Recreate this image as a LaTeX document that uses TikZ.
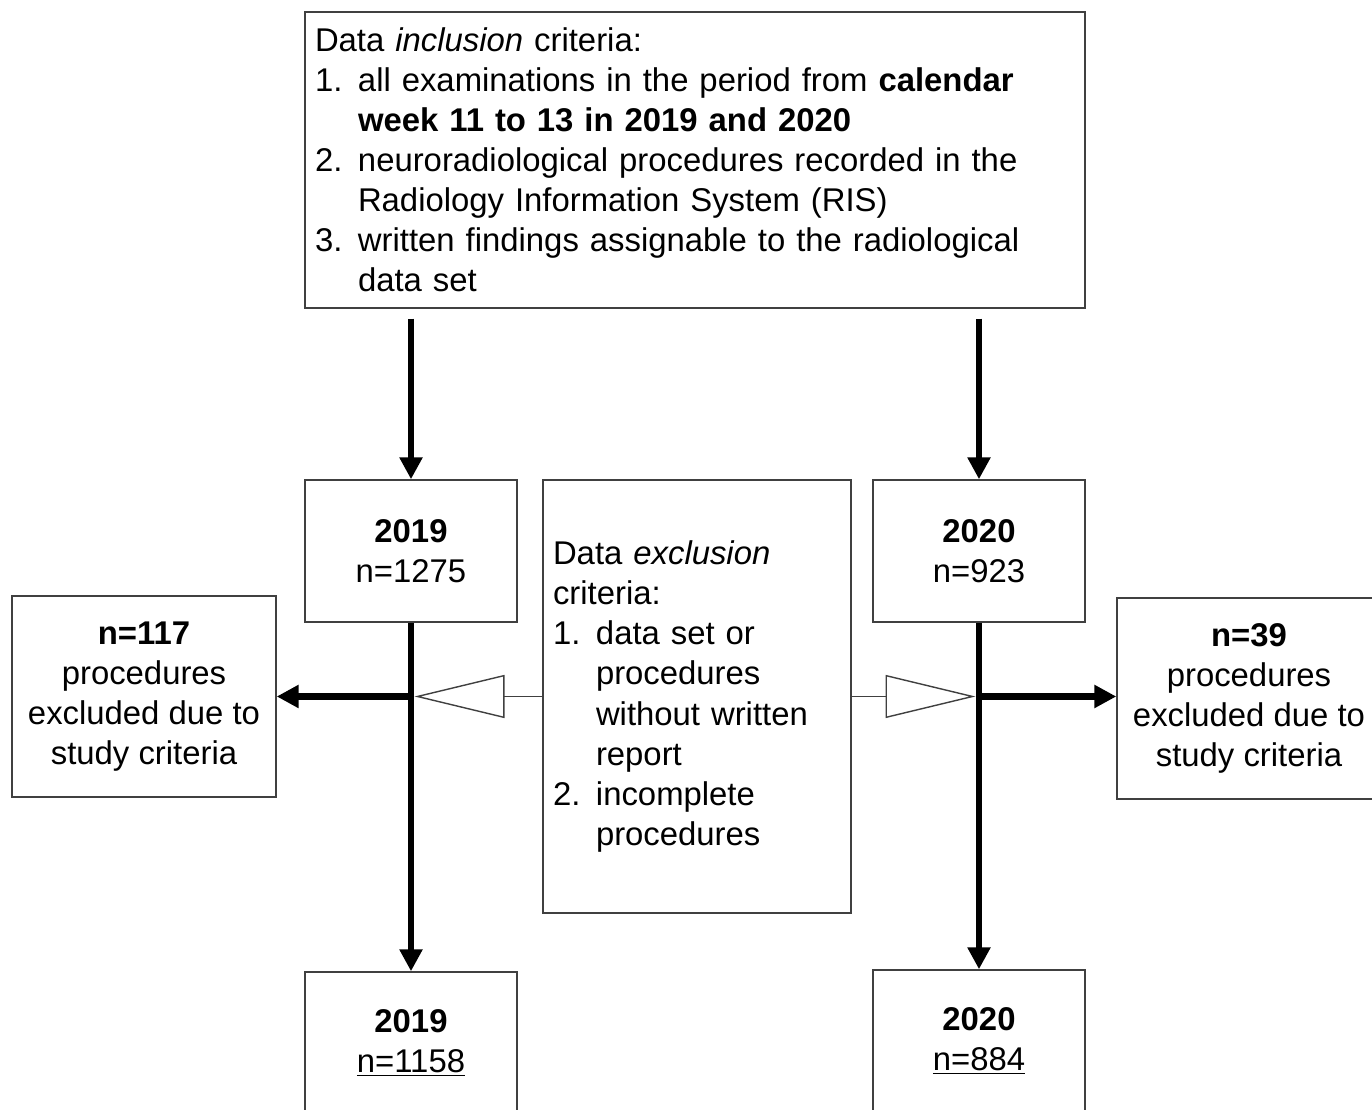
\documentclass[tikz,border=0pt]{standalone}
\usepackage{fontspec}
\setmainfont{Liberation Sans}
\usetikzlibrary{positioning,arrows.meta,calc}
\definecolor{boxline}{HTML}{404040}
\newcommand{\critnum}[1]{\makebox[0.86cm][l]{#1}}
\newcommand{\critgap}{\hspace*{0.86cm}}

\begin{document}
\begin{tikzpicture}[
    every node/.style={font=\fontsize{18.7}{22.8}\selectfont},
    critbox/.style={
        draw=boxline,
        line width=0.8pt,
        align=left,
        inner sep=0.2cm,
    },
    yearbox/.style={
        draw=boxline,
        line width=0.8pt,
        align=center,
        minimum width=4.24cm,
        minimum height=2.84cm,
    },
    outbox/.style={
        draw=boxline,
        line width=0.8pt,
        align=center,
        minimum width=5.28cm,
        minimum height=4.02cm,
    },
    flow/.style={-{Triangle[length=0.44cm,width=0.44cm]},line width=3.5pt},
    hollow/.style={-{Triangle[open,length=1.8cm,width=0.86cm]},line width=0.8pt,draw=boxline},
]

\useasboundingbox (0,0) rectangle (27.44,22.2);
\clip (0,0) rectangle (27.44,22.2);

% === Inclusion criteria ===
\node[critbox,text width=15.2cm,minimum height=5.92cm] (incl) at (13.9,19.0) {
    Data \textit{inclusion} criteria:\\
    \critnum{1.}all examinations in the period from \textbf{calendar}\\
    \critgap\textbf{week 11 to 13 in 2019 and 2020}\\
    \critnum{2.}neuroradiological procedures recorded in the\\
    \critgap Radiology Information System (RIS)\\
    \critnum{3.}written findings assignable to the radiological\\
    \critgap data set
};

% === Years, before exclusion ===
\node[yearbox] (b19) at (8.22,11.18) {\textbf{2019}\\n=1275};
\node[yearbox] (b20) at (19.58,11.18) {\textbf{2020}\\n=923};

% === Exclusion criteria ===
\node[critbox,text width=5.76cm,minimum height=8.66cm] (excl) at (13.94,8.27) {
    Data \textit{exclusion}\\
    criteria:\\
    \critnum{1.}data set or\\
    \critgap procedures\\
    \critgap without written\\
    \critgap report\\
    \critnum{2.}incomplete\\
    \critgap procedures
};

% === Excluded procedures ===
\node[outbox] (outl) at (2.88,8.27) {
    \textbf{n=117}\\procedures\\excluded due to\\study criteria
};
\node[outbox] (outr) at (24.98,8.23) {
    \textbf{n=39}\\procedures\\excluded due to\\study criteria
};

% === Years, after exclusion ===
\node[yearbox] (b19f) at (8.22,1.34) {\textbf{2019}\\\underline{n=1158}};
\node[yearbox] (b20f) at (19.58,1.38) {\textbf{2020}\\\underline{n=884}};

% === Arrows ===
\coordinate (in19) at ($(incl.south -| b19.north)+(0,-0.2)$);
\coordinate (in20) at ($(incl.south -| b20.north)+(0,-0.2)$);
\draw[flow] (in19) -- (b19.north);
\draw[flow] (in20) -- (b20.north);

\coordinate (jl) at (b19.south |- excl.west);
\coordinate (jr) at (b20.south |- excl.east);

\draw[flow] (b19.south) -- (b19f.north);
\draw[flow] (b20.south) -- (b20f.north);
\draw[flow] (jl) -- (jl -| outl.east);
\draw[flow] (jr) -- (jr -| outr.west);

\draw[hollow] (excl.west) -- ($(jl)+(0.07,0)$);
\draw[hollow] (excl.east) -- ($(jr)+(-0.07,0)$);

\end{tikzpicture}
\end{document}
